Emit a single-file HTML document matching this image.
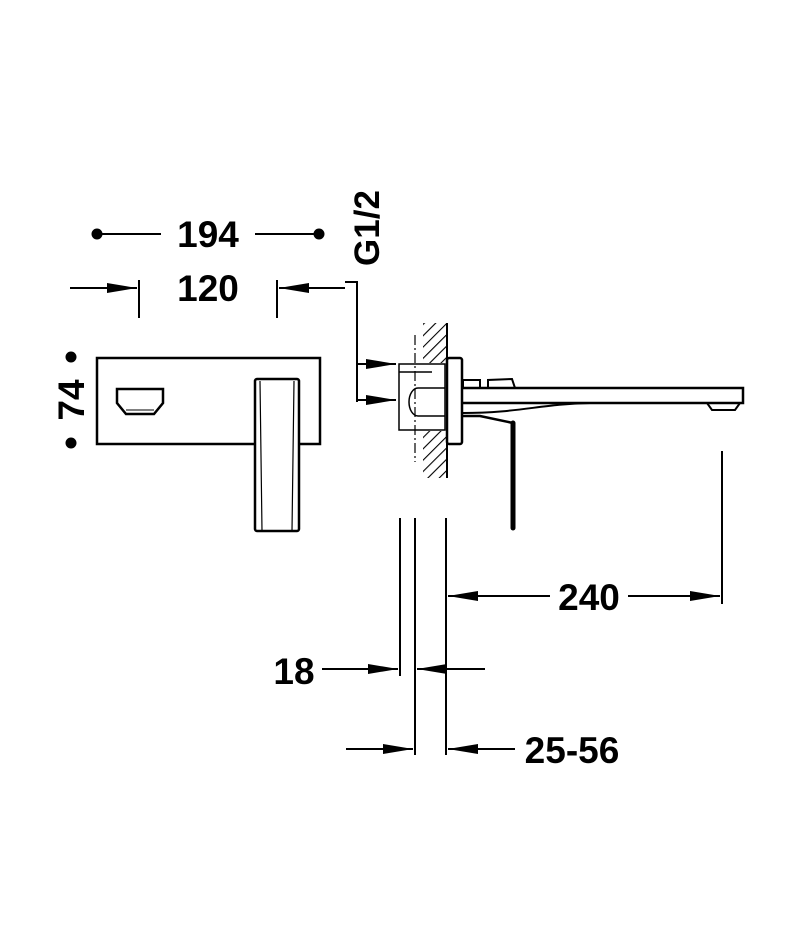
<!DOCTYPE html>
<html><head><meta charset="utf-8"><style>body{margin:0;background:#fff}svg{display:block}text{font-family:"Liberation Sans",sans-serif;font-weight:bold;fill:#000}</style></head><body>
<svg width="800" height="950" viewBox="0 0 800 950" xmlns="http://www.w3.org/2000/svg">
<defs>
<marker id="ar" viewBox="0 0 10 10" refX="10" refY="5" markerWidth="30" markerHeight="10" orient="auto" markerUnits="userSpaceOnUse" preserveAspectRatio="none"><path d="M0,0L10,5L0,10z"/></marker>
<pattern id="h" width="8" height="8" patternUnits="userSpaceOnUse" patternTransform="rotate(45)"><line x1="0" y1="0" x2="0" y2="8" stroke="#000" stroke-width="2.2"/></pattern>
</defs>
<g stroke="#000" fill="none" stroke-width="2">
<circle cx="97" cy="234" r="4.5" fill="#000"/><circle cx="319" cy="234" r="4.5" fill="#000"/>
<line x1="97" y1="234" x2="161" y2="234"/><line x1="255" y1="234" x2="319" y2="234"/>
<line x1="70" y1="288" x2="137" y2="288" marker-end="url(#ar)"/>
<line x1="139" y1="280" x2="139" y2="318"/>
<line x1="345" y1="288" x2="279" y2="288" marker-end="url(#ar)"/>
<line x1="277" y1="280" x2="277" y2="318"/>
<circle cx="71" cy="357" r="4.5" fill="#000"/><circle cx="71" cy="443" r="4.5" fill="#000"/>
<rect x="97" y="358" width="223" height="86" stroke-width="2.5"/>
<path d="M117,389H163V403L154,414H126L117,403Z" stroke-width="2.5"/>
<line x1="126" y1="410" x2="154" y2="410" stroke-width="1"/>
<rect x="255" y="379" width="44" height="152" rx="2" fill="#fff" stroke-width="2.5"/>
<path d="M260,381L262,531M294,381L292,531" stroke-width="1.2"/>
<polyline points="345,282 357,282 357,402"/>
<line x1="357" y1="364" x2="396" y2="364" marker-end="url(#ar)"/>
<line x1="357" y1="400" x2="396" y2="400" marker-end="url(#ar)"/>
<rect x="423" y="323" width="24" height="155" fill="url(#h)" stroke="none"/>
<rect x="398" y="363" width="49" height="68" fill="#fff" stroke="none"/>
<line x1="447" y1="323" x2="447" y2="478"/>
<line x1="415" y1="335" x2="415" y2="462" stroke-width="1.2" stroke-dasharray="10,3,2,3"/>
<rect x="399" y="364" width="46" height="66" stroke-width="1.5"/>
<line x1="399" y1="372" x2="432" y2="372" stroke-width="1.5"/>
<path d="M445,388H418A9,14 0 0 0 418,416H445" stroke-width="1.5"/>
<rect x="447" y="358" width="15" height="86" rx="2" stroke-width="2.5"/>
<path d="M462,388H743V403H462" stroke-width="2.5"/>
<path d="M462,413C520,413 540,404 590,403" stroke-width="2"/>
<path d="M707,403L712,410H735L740,403" stroke-width="2"/>
<path d="M463,388V380H480V388M488,388V380L512,379L515,388" stroke-width="2"/>
<path d="M462,416H480L513,423V528" stroke-width="2.5"/>
<line x1="513" y1="423" x2="513" y2="528" stroke-width="5" stroke-linecap="round"/>
<line x1="722" y1="451" x2="722" y2="604"/>
<line x1="400" y1="518" x2="400" y2="676"/>
<line x1="415" y1="518" x2="415" y2="755"/>
<line x1="446" y1="518" x2="446" y2="755"/>
<line x1="550" y1="596" x2="448" y2="596" marker-end="url(#ar)"/>
<line x1="628" y1="596" x2="720" y2="596" marker-end="url(#ar)"/>
<line x1="322" y1="669" x2="398" y2="669" marker-end="url(#ar)"/>
<line x1="485" y1="669" x2="417" y2="669" marker-end="url(#ar)"/>
<line x1="346" y1="749" x2="413" y2="749" marker-end="url(#ar)"/>
<line x1="515" y1="749" x2="448" y2="749" marker-end="url(#ar)"/>
</g>
<text x="208" y="247" font-size="37" text-anchor="middle">194</text>
<text x="208" y="301" font-size="37" text-anchor="middle">120</text>
<text transform="translate(84,400) rotate(-90)" font-size="37" text-anchor="middle">74</text>
<text transform="translate(379,228) rotate(-90)" font-size="35" text-anchor="middle">G1/2</text>
<text x="589" y="610" font-size="37" text-anchor="middle">240</text>
<text x="294" y="684" font-size="37" text-anchor="middle">18</text>
<text x="572" y="763" font-size="37" text-anchor="middle">25-56</text>
</svg>
</body></html>
